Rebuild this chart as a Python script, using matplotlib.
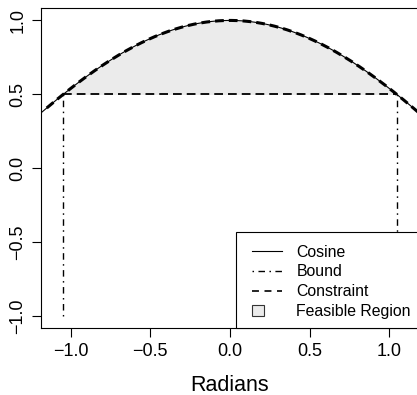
import numpy as np
import matplotlib
matplotlib.use("Agg")
import matplotlib.pyplot as plt
from matplotlib.lines import Line2D
from matplotlib.patches import Rectangle, Patch
from matplotlib.legend_handler import HandlerPatch

plt.rcParams['font.family'] = ['Liberation Sans', 'DejaVu Sans']
plt.rcParams['lines.scale_dashes'] = False

# ---- data ----
x_min, x_max = -1.186, 1.186          # plotted range of the cosine (radians)
y_min, y_max = -1.076, 1.084
constraint_start = -1.15              # dashed constraint curve starts here
constraint_level = 0.5                # horizontal constraint y = 0.5
bound_x = [-np.pi / 3, np.pi / 3]     # vertical bounds (cos = 0.5)
bound_bottom = -1.0
xticks = [-1.0, -0.5, 0.0, 0.5, 1.0]
yticks = [-1.0, -0.5, 0.0, 0.5, 1.0]
xtick_labels = ["\u22121.0", "\u22120.5", "0.0", "0.5", "1.0"]
ytick_labels = ["\u22121.0", "\u22120.5", "0.0", "0.5", "1.0"]
legend_labels = ["Cosine", "Bound", "Constraint", "Feasible Region"]
x_label = "Radians"

FILL = "#EBEBEB"
DASH = (6.3, 3.6)
DASHDOT = (0, (1.1, 3.2, 4.7, 3.2))

W, H = 417, 395
AX_L, AX_R, AX_T, AX_B = 41, 419, 8, 327.7
fig = plt.figure(figsize=(W / 100, H / 100), dpi=100)
ax = fig.add_axes([AX_L / W, 1 - AX_B / H, (AX_R - AX_L) / W, (AX_B - AX_T) / H])


def ax_frac(px, py):
    return ((px - AX_L) / (AX_R - AX_L), (AX_B - py) / (AX_B - AX_T))


xs = np.linspace(x_min, x_max, 600)
ax.plot(xs, np.cos(xs), color="black", lw=0.8, zorder=3)

xf = np.linspace(bound_x[0], bound_x[1], 400)
ax.fill_between(xf, constraint_level, np.cos(xf), color=FILL, lw=0, zorder=1)

xc = np.linspace(constraint_start, x_max, 600)
ax.plot(xc, np.cos(xc), color="black", lw=2.2, dashes=DASH, zorder=4)

ax.plot([bound_x[0], bound_x[1]], [constraint_level, constraint_level],
        color="black", lw=1.3, dashes=DASH, zorder=4)
for bx in bound_x:
    ax.plot([bx, bx], [bound_bottom, constraint_level], color="black",
            lw=1.0, linestyle=DASHDOT, zorder=4)

ax.set_xlim(x_min, x_max)
ax.set_ylim(y_min, y_max)
ax.set_xticks(xticks)
ax.set_xticklabels(xtick_labels)
ax.set_yticks(yticks)
ax.set_yticklabels(ytick_labels, rotation=90, va="center")
ax.tick_params(direction="out", length=6.5, width=0.8, labelsize=13,
               colors="black")
ax.tick_params(axis="x", pad=4.5)
ax.tick_params(axis="y", pad=4)
for s in ax.spines.values():
    s.set_linewidth(0.8)
    s.set_color("black")
ax.set_xlabel(x_label, fontsize=15.5, labelpad=11)


class LeftBoxHandler(HandlerPatch):
    def create_artists(self, legend, orig_handle, xdescent, ydescent,
                       width, height, fontsize, trans):
        size = 8.5
        p = Rectangle((-xdescent, -ydescent + (height - size) / 2), size, size,
                      facecolor=FILL, edgecolor="#333333", lw=0.8,
                      transform=trans)
        return [p]


# legend frame (R style box, anchored at bottom-right of the plot)
fx0, fy0 = ax_frac(236, AX_B)
fx1, fy1 = ax_frac(AX_R, 232)
ax.add_patch(Rectangle((fx0, fy0), fx1 - fx0, fy1 - fy0, transform=ax.transAxes,
                       facecolor="white", edgecolor="black", lw=0.8,
                       zorder=5, clip_on=False))

handles = [
    Line2D([], [], color="black", lw=0.8),
    Line2D([], [], color="black", lw=1.0, linestyle=DASHDOT),
    Line2D([], [], color="black", lw=1.2, dashes=(5, 4)),
    Patch(facecolor=FILL, edgecolor="#333333"),
]
lx, ly = ax_frac(252, 319)
leg = ax.legend(handles, legend_labels, loc="lower left",
                bbox_to_anchor=(lx, ly), borderaxespad=0, frameon=False,
                fontsize=11.4, handlelength=1.9, handletextpad=0.9,
                labelspacing=0.3, borderpad=0,
                handler_map={Patch: LeftBoxHandler()})
leg.set_zorder(6)

fig.savefig("out.png", dpi=100)
